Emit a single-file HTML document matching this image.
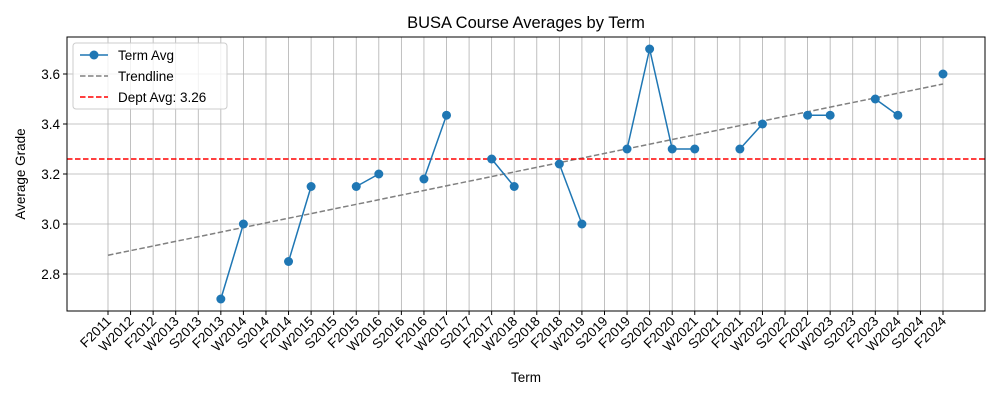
<!DOCTYPE html>
<html><head><meta charset="utf-8"><style>
body{margin:0;background:#fff;}
svg{display:block;font-family:"Liberation Sans","DejaVu Sans",sans-serif;}
</style></head><body>
<svg id="chart" width="1000" height="400" viewBox="0 0 1000 400">
<rect width="1000" height="400" fill="#fff"/>
<text x="526" y="28" text-anchor="middle" font-size="16.5" fill="#000">BUSA Course Averages by Term</text>
<g id="grid"></g>
<g id="plot"></g>
<g id="xticks"></g>
<g id="yticks"></g>
<rect x="67" y="37" width="918" height="274" fill="none" stroke="#000" stroke-width="1"/>
<text x="526" y="382" text-anchor="middle" font-size="13.5">Term</text>
<text transform="translate(25,174) rotate(-90)" text-anchor="middle" font-size="13.5">Average Grade</text>
<g>
<rect x="73" y="43" width="154" height="66" rx="3" fill="#fff" fill-opacity="0.8" stroke="#ccc"/>
<g>
<line x1="80" y1="55" x2="108" y2="55" stroke="#1f77b4" stroke-width="1.5"/><circle cx="94" cy="55" r="4.5" fill="#1f77b4"/>
<text x="118" y="60" font-size="13.5">Term Avg</text></g>
<g>
<line x1="80" y1="76" x2="108" y2="76" stroke="#808080" stroke-width="1.5" stroke-dasharray="5.5,2.5"/>
<text x="118" y="81" font-size="13.5">Trendline</text></g>
<g>
<line x1="80" y1="97" x2="108" y2="97" stroke="#ff0000" stroke-width="1.5" stroke-dasharray="5.5,2.5"/>
<text x="118" y="102" font-size="13.5">Dept Avg: 3.26</text></g>
</g>
</svg>
<script>
const categories=["F2011","W2012","F2012","W2013","S2013","F2013","W2014","S2014","F2014","W2015","S2015","F2015","W2016","S2016","F2016","W2017","S2017","F2017","W2018","S2018","F2018","W2019","S2019","F2019","S2020","F2020","W2021","S2021","F2021","W2022","S2022","F2022","W2023","S2023","F2023","W2024","S2024","F2024"];
const termAvg=[null,null,null,null,null,2.70,3.00,null,2.85,3.15,null,3.15,3.20,null,3.18,3.435,null,3.26,3.15,null,3.24,3.00,null,3.30,3.70,3.30,3.30,null,3.30,3.40,null,3.435,3.435,null,3.50,3.435,null,3.60];
const trendStart=2.875, trendEnd=3.56;
const deptAvg=3.26;
const yTicks=[2.8,3.0,3.2,3.4,3.6];
const NS="http://www.w3.org/2000/svg";
const x=i=>108+i*(943-108)/(categories.length-1);
const y=v=>274-(v-2.8)*250;
function mk(tag,attrs,parent){const e=document.createElementNS(NS,tag);for(const k in attrs)e.setAttribute(k,attrs[k]);parent.appendChild(e);return e;}
const grid=document.getElementById('grid'),plot=document.getElementById('plot'),xt=document.getElementById('xticks'),yt=document.getElementById('yticks');
categories.forEach((c,i)=>{
  const g=mk('line',{x1:x(i),x2:x(i),y1:37,y2:311,stroke:'#b0b0b0','stroke-width':0.8},grid);
  
  
  mk('line',{x1:x(i),x2:x(i),y1:311,y2:315,stroke:'#000'},xt);
  const t=mk('text',{transform:`translate(${x(i)+4},${322}) rotate(-45)`,'text-anchor':'end','font-size':'13.5'},xt);
  t.textContent=c;
  
  
});
yTicks.forEach(v=>{
  const g=mk('line',{x1:67,x2:985,y1:y(v),y2:y(v),stroke:'#b0b0b0','stroke-width':0.8},grid);
  
  
  mk('line',{x1:63,x2:67,y1:y(v),y2:y(v),stroke:'#000'},yt);
  const t=mk('text',{x:60,y:y(v)+5,'text-anchor':'end','font-size':'13.5'},yt);
  t.textContent=v.toFixed(1);
  
  
});
const tr=mk('line',{x1:x(0),y1:y(trendStart),x2:x(categories.length-1),y2:y(trendEnd),stroke:'#808080','stroke-width':1.5,'stroke-dasharray':'5.5,2.5'},plot);


const da=mk('line',{x1:67,x2:985,y1:y(deptAvg),y2:y(deptAvg),stroke:'#ff0000','stroke-width':1.5,'stroke-dasharray':'5.5,2.5'},plot);


for(let i=1;i<termAvg.length;i++){
  if(termAvg[i]!=null&&termAvg[i-1]!=null){
    const s=mk('line',{x1:x(i-1),y1:y(termAvg[i-1]),x2:x(i),y2:y(termAvg[i]),stroke:'#1f77b4','stroke-width':1.5},plot);
    
    
  }
}
termAvg.forEach((v,i)=>{
  if(v==null)return;
  const p=mk('circle',{cx:x(i),cy:y(v),r:4.5,fill:'#1f77b4'},plot);
  
  
});
</script>
</body></html>
